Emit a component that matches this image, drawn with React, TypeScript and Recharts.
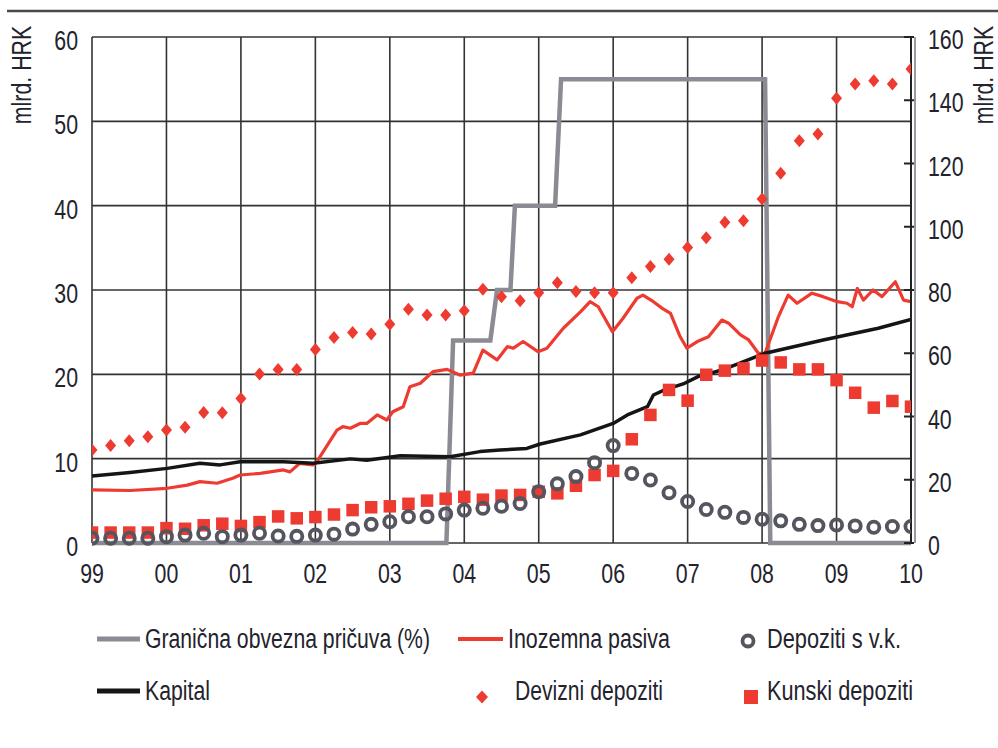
import { ComposedChart, Line, Scatter, XAxis, YAxis, CartesianGrid } from "recharts";

const FONT = "'Liberation Sans', Arial, sans-serif";
const SQUEEZE = 0.79; // the source uses a condensed face
const FONT_SIZE = 27;
const TEXT = "#23232d";
const RED = "#ee3b32";
const GRAY = "#8b8b93";
const RING = "#55555f";

const YEARS = [1999, 2000, 2001, 2002, 2003, 2004, 2005, 2006, 2007, 2008, 2009, 2010];
const YEAR_LABELS = ["99", "00", "01", "02", "03", "04", "05", "06", "07", "08", "09", "10"];
const LEFT_TICKS = [0, 10, 20, 30, 40, 50, 60];
const RIGHT_TICKS = [0, 20, 40, 60, 80, 100, 120, 140, 160];

// quarterly, 1999Q1 .. 2010Q1 (mlrd. HRK, right axis)
const DEVIZNI = [
  29.4, 30.8, 32.3, 33.6, 35.7, 36.6, 41.3, 41.2, 45.7, 53.4,
  54.9, 54.9, 61.2, 65.0, 66.6, 66.1, 69.2, 73.9, 72.1, 72.1,
  73.4, 80.2, 77.9, 76.6, 79.1, 82.3, 79.5, 79.1, 79.1, 83.9,
  87.4, 89.7, 93.4, 96.5, 101.4, 101.9, 108.8, 116.9, 127.2, 129.3,
  140.6, 145.1, 146.2, 145.1, 149.9,
];
const KUNSKI = [
  3.3, 3.3, 3.3, 3.3, 4.7, 4.5, 5.6, 6.1, 5.4, 6.6,
  8.4, 7.8, 8.2, 9.0, 10.4, 11.3, 11.6, 12.4, 13.4, 14.0,
  14.6, 13.7, 15.0, 15.2, 16.2, 15.7, 18.1, 21.5, 22.8, 32.8,
  40.5, 48.4, 45.0, 53.2, 54.5, 55.2, 57.7, 57.1, 54.9, 54.9,
  51.5, 47.5, 42.8, 44.9, 43.1,
];
const DEPOZITI_VK = [
  1.5, 1.5, 1.5, 1.5, 2.0, 2.5, 3.1, 2.0, 2.5, 3.1,
  2.2, 2.1, 2.5, 2.8, 4.4, 5.9, 6.7, 8.3, 8.3, 9.2,
  10.4, 11.0, 11.6, 12.5, 16.2, 18.7, 21.0, 25.4, 30.8, 22.0,
  19.9, 15.9, 13.1, 10.6, 9.7, 8.1, 7.5, 7.0, 5.9, 5.5,
  5.7, 5.4, 5.0, 5.2, 5.2,
];

// marginal reserve requirement (%), left axis
const PRICUVA: [number, number][] = [
  [1999.0, 0], [2003.76, 0], [2003.85, 24], [2004.35, 24], [2004.44, 30],
  [2004.62, 30], [2004.68, 40], [2005.22, 40], [2005.3, 55], [2008.04, 55],
  [2008.11, 0], [2010.0, 0],
];

const INOZEMNA_PASIVA: [number, number][] = [
  [1999.0, 16.8], [1999.51, 16.6], [2000.01, 17.3], [2000.28, 18.3], [2000.45, 19.4],
  [2000.68, 18.9], [2000.89, 20.5], [2000.99, 21.5], [2001.26, 22.0], [2001.57, 23.1],
  [2001.66, 22.5], [2001.79, 25.2], [2001.97, 24.7], [2002.02, 25.7], [2002.29, 35.7],
  [2002.37, 36.8], [2002.47, 36.3], [2002.6, 37.8], [2002.69, 37.8], [2002.83, 40.5],
  [2002.96, 38.9], [2003.04, 41.5], [2003.18, 43.1], [2003.27, 49.4], [2003.41, 50.5],
  [2003.58, 54.2], [2003.77, 54.9], [2003.94, 53.1], [2004.12, 53.7], [2004.25, 61.0],
  [2004.44, 57.9], [2004.58, 62.1], [2004.66, 61.6], [2004.79, 63.7], [2004.99, 60.5],
  [2005.11, 61.6], [2005.33, 67.9], [2005.56, 73.1], [2005.69, 76.3], [2005.8, 74.7],
  [2005.99, 66.8], [2006.13, 71.0], [2006.32, 77.4], [2006.4, 78.4], [2006.54, 76.3],
  [2006.66, 74.2], [2006.77, 72.6], [2006.9, 65.2], [2006.99, 61.6], [2007.13, 63.7],
  [2007.28, 65.2], [2007.46, 70.5], [2007.55, 69.5], [2007.71, 65.8], [2007.82, 64.2],
  [2007.95, 60.0], [2008.04, 60.0], [2008.22, 71.6], [2008.35, 78.4], [2008.47, 75.8],
  [2008.67, 79.0], [2008.82, 77.9], [2009.01, 76.3], [2009.14, 75.8], [2009.21, 74.7],
  [2009.28, 80.5], [2009.36, 76.8], [2009.49, 80.0], [2009.61, 77.9], [2009.79, 82.6],
  [2009.9, 76.8], [2010.0, 76.3],
];

const KAPITAL: [number, number][] = [
  [1999.0, 21.2], [1999.51, 22.3], [2000.01, 23.6], [2000.45, 25.2], [2000.72, 24.7],
  [2000.99, 25.7], [2001.57, 25.7], [2001.97, 25.2], [2002.47, 26.6], [2002.69, 26.2],
  [2003.14, 27.6], [2003.81, 27.3], [2004.21, 28.9], [2004.48, 29.4], [2004.84, 29.9],
  [2005.02, 31.3], [2005.56, 34.2], [2006.0, 37.8], [2006.19, 40.5], [2006.46, 43.1],
  [2006.54, 46.8], [2006.69, 48.4], [2006.96, 50.5], [2007.14, 52.6], [2007.46, 54.7],
  [2008.04, 60.0], [2008.82, 64.2], [2009.56, 67.9], [2010.0, 70.7],
];

const quarterRows = DEVIZNI.map((v, i) => ({
  x: 1999 + i / 4,
  devizni: v,
  kunski: KUNSKI[i],
  vk: DEPOZITI_VK[i],
}));
const toRows = (pts: [number, number][]) => pts.map(([x, v]) => ({ x, v }));

const Diamond = (p: any) => (
  <polygon
    points={`${p.cx},${p.cy - 6.5} ${p.cx + 5.5},${p.cy} ${p.cx},${p.cy + 6.5} ${p.cx - 5.5},${p.cy}`}
    fill={RED}
  />
);
const Square = (p: any) => <rect x={p.cx - 6.25} y={p.cy - 6.25} width={12.5} height={12.5} fill={RED} />;
const Ring = (p: any) => (
  <circle cx={p.cx} cy={p.cy} r={5.6} fill="none" stroke={RING} strokeWidth={3.8} />
);

// condensed text: horizontal squeeze of a regular sans
const NText = ({ x, y, anchor = "start", rotate = 0, children }: any) => (
  <text
    transform={`translate(${x},${y}) rotate(${rotate}) scale(${SQUEEZE},1)`}
    textAnchor={anchor}
    fontSize={FONT_SIZE}
    fontFamily={FONT}
    fill={TEXT}
  >
    {children}
  </text>
);

const XTick = (p: any) => (
  <NText x={p.x} y={p.y + 38} anchor="middle">
    {YEAR_LABELS[YEARS.indexOf(p.payload.value)]}
  </NText>
);
const LeftTick = (p: any) => (
  <NText x={p.x} y={p.y + 13} anchor="end">
    {p.payload.value}
  </NText>
);
const RightTick = (p: any) => (
  <g>
    <line x1={p.x - 24} x2={p.x - 14} y1={p.y} y2={p.y} stroke="#222" strokeWidth={2} />
    <NText x={p.x} y={p.y + 12}>{p.payload.value}</NText>
  </g>
);

const LegendText = ({ x, y, w, children }: any) => (
  <text
    x={x}
    y={y}
    textLength={w}
    lengthAdjust="spacingAndGlyphs"
    fontSize={FONT_SIZE}
    fontFamily={FONT}
    fill={TEXT}
  >
    {children}
  </text>
);

export default function App() {
  return (
    <div style={{ position: "absolute", left: 0, top: 0, width: 998, height: 748, background: "#fff" }}>
      <ComposedChart
        width={998}
        height={748}
        data={quarterRows}
        margin={{ top: 37, right: 0, bottom: 165, left: 0 }}
      >
        <CartesianGrid yAxisId="left" stroke="#333" strokeWidth={1.6} />
        <XAxis
          dataKey="x"
          type="number"
          domain={[1999, 2010]}
          ticks={YEARS}
          interval={0}
          height={40}
          axisLine={false}
          tickLine={false}
          tickSize={0}
          tick={(p: any) => <XTick {...p} />}
          allowDataOverflow
        />
        <YAxis
          yAxisId="left"
          domain={[0, 60]}
          ticks={LEFT_TICKS}
          interval={0}
          width={92}
          axisLine={false}
          tickLine={false}
          tickSize={0}
          tickMargin={14}
          tick={(p: any) => <LeftTick {...p} />}
        />
        <YAxis
          yAxisId="right"
          orientation="right"
          domain={[0, 160]}
          ticks={RIGHT_TICKS}
          interval={0}
          width={87}
          axisLine={{ stroke: "#222", strokeWidth: 2 }}
          tickLine={false}
          tickSize={0}
          tickMargin={17}
          tick={(p: any) => <RightTick {...p} />}
        />
        <Line
          yAxisId="left"
          data={toRows(PRICUVA)}
          dataKey="v"
          type="linear"
          stroke={GRAY}
          strokeWidth={4.5}
          dot={false}
          isAnimationActive={false}
        />
        <Line
          yAxisId="right"
          data={toRows(INOZEMNA_PASIVA)}
          dataKey="v"
          type="linear"
          stroke={RED}
          strokeWidth={3.2}
          dot={false}
          strokeLinejoin="round"
          isAnimationActive={false}
        />
        <Line
          yAxisId="right"
          data={toRows(KAPITAL)}
          dataKey="v"
          type="linear"
          stroke="#151515"
          strokeWidth={3.5}
          dot={false}
          strokeLinejoin="round"
          isAnimationActive={false}
        />
        <Scatter yAxisId="right" dataKey="kunski" shape={Square} isAnimationActive={false} />
        <Scatter yAxisId="right" dataKey="vk" shape={Ring} isAnimationActive={false} />
        <Scatter yAxisId="right" dataKey="devizni" shape={Diamond} isAnimationActive={false} />
      </ComposedChart>

      <svg
        width={998}
        height={748}
        style={{ position: "absolute", left: 0, top: 0, pointerEvents: "none" }}
      >
        <line x1={7} x2={998} y1={11} y2={11} stroke="#4a4a4a" strokeWidth={2.5} />
        <line x1={915} x2={915} y1={37} y2={543} stroke="#9a9aa2" strokeWidth={2} />
        <NText x={31} y={75} anchor="middle" rotate={-90}>mlrd. HRK</NText>
        <NText x={993} y={75} anchor="middle" rotate={-90}>mlrd. HRK</NText>

        <line x1={97} x2={140} y1={639} y2={639} stroke={GRAY} strokeWidth={5} />
        <LegendText x={145} y={648} w={285}>Granična obvezna pričuva (%)</LegendText>
        <line x1={458} x2={503} y1={639} y2={639} stroke={RED} strokeWidth={4} />
        <LegendText x={508} y={648} w={162}>Inozemna pasiva</LegendText>
        <circle cx={748} cy={641} r={5.5} fill="none" stroke={RING} strokeWidth={3.8} />
        <LegendText x={767} y={648} w={134}>Depoziti s v.k.</LegendText>

        <line x1={97} x2={140} y1={691} y2={691} stroke="#151515" strokeWidth={5} />
        <LegendText x={145} y={700} w={65}>Kapital</LegendText>
        <polygon points="482,690.5 488,697 482,703.5 476,697" fill={RED} />
        <LegendText x={515} y={700} w={148}>Devizni depoziti</LegendText>
        <rect x={744} y={690} width={14} height={14} fill={RED} />
        <LegendText x={767} y={700} w={146}>Kunski depoziti</LegendText>
      </svg>
    </div>
  );
}
